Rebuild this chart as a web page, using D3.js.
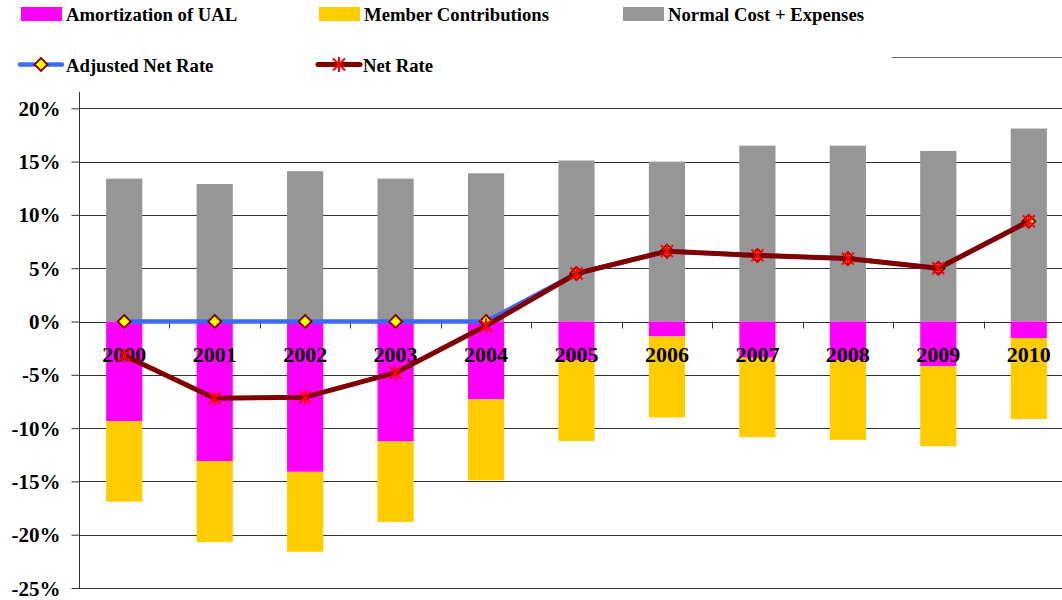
<!DOCTYPE html>
<html>
<head>
<meta charset="utf-8">
<script src="https://cdn.jsdelivr.net/npm/d3@7"></script>
<style>
  html, body { margin: 0; padding: 0; background: #fff; }
  svg { display: block; }
</style>
</head>
<body>
<svg id="chart" width="1062" height="600"></svg>
<script>
// ---- data (percent) ----
const years = ["2000","2001","2002","2003","2004","2005","2006","2007","2008","2009","2010"];
const normalCost = [13.4, 12.9, 14.1, 13.4, 13.9, 15.1, 15.0, 16.5, 16.5, 16.0, 18.1];
const amortizationUAL = [-9.35, -13.1, -14.1, -11.25, -7.3, -3.65, -1.4, -3.4, -3.65, -4.2, -1.55];
const memberContrib = [-7.55, -7.6, -7.5, -7.55, -7.6, -7.55, -7.6, -7.45, -7.45, -7.5, -7.6];
const netRate = [-3.2, -7.2, -7.1, -4.8, -0.4, 4.5, 6.6, 6.2, 5.9, 5.0, 9.4];
const adjustedNetRate = [0, 0, 0, 0, 0, 4.5, 6.6, 6.2, 5.9, 5.0, 9.4];
const yTicks = [20, 15, 10, 5, 0, -5, -10, -15, -20, -25];

const FONT = (size) => `font-family:'Liberation Serif','Times New Roman',serif;font-weight:bold;font-size:${size}px;fill:#000`;

const svg = d3.select("#chart");
const x = d3.scaleBand().domain(years).range([79, 1074]).paddingInner(0.6).paddingOuter(0.3);
const y = d3.scaleLinear().domain([-25, 20]).range([588, 108.3]);

// grid lines
svg.append("g").selectAll("line").data(yTicks).join("line")
  .attr("x1", 79).attr("x2", 1074)
  .attr("y1", d => Math.round(y(d)) + 0.5).attr("y2", d => Math.round(y(d)) + 0.5)
  .attr("stroke", "#333").attr("stroke-width", 1);

// y axis
const yAxis = d3.axisLeft(y).tickValues(yTicks).tickSize(8).tickFormat(d => d + "%");
const gy = svg.append("g").attr("transform", "translate(79.5,0)").call(yAxis);
gy.attr("font-family", null).attr("font-size", null);
gy.select(".domain").attr("d", "M0,92V588").attr("stroke", "#333");
gy.selectAll(".tick line").attr("stroke", "#333");
gy.selectAll(".tick text").attr("x", -19).attr("dy", null).attr("y", 7)
  .attr("fill", "#000").attr("style", FONT(21));

// bars
const barG = svg.append("g");
function bars(vals, base, color) {
  barG.append("g").selectAll("rect").data(years).join("rect")
    .attr("x", d => x(d)).attr("width", x.bandwidth())
    .attr("y", (d, i) => Math.min(y(base[i]), y(base[i] + vals[i])))
    .attr("height", (d, i) => Math.abs(y(base[i] + vals[i]) - y(base[i])))
    .attr("fill", color);
}
const zeros = years.map(() => 0);
bars(normalCost, zeros, "#969696");
bars(amortizationUAL, zeros, "#FF00FF");
bars(memberContrib, amortizationUAL, "#FFCC00");

// x axis at zero line (ticks at band boundaries)
const step = x.step();
const boundaries = years.slice(1).map(d => x(d) - (step - x.bandwidth()) / 2);
svg.append("g").selectAll("line").data(boundaries).join("line")
  .attr("x1", d => Math.round(d) + 0.5).attr("x2", d => Math.round(d) + 0.5)
  .attr("y1", y(0)).attr("y2", y(0) + 7).attr("stroke", "#333");

// x labels
svg.append("g").selectAll("text").data(years).join("text")
  .attr("x", d => x(d) + x.bandwidth() / 2).attr("y", 362)
  .attr("text-anchor", "middle").attr("style", FONT(22)).text(d => d);

// lines
const line = d3.line().x((d, i) => x(years[i]) + x.bandwidth() / 2).y(d => y(d));
svg.append("path").datum(adjustedNetRate).attr("d", line)
  .attr("fill", "none").attr("stroke", "#3A6BF5").attr("stroke-width", 4.5).attr("stroke-linejoin", "round");
const diamond = "M0,-6.5L6.5,0L0,6.5L-6.5,0Z";
svg.append("g").selectAll("path").data(adjustedNetRate).join("path")
  .attr("transform", (d, i) => `translate(${x(years[i]) + x.bandwidth() / 2},${y(d)})`)
  .attr("d", diamond).attr("fill", "#FFFF00").attr("stroke", "#800000").attr("stroke-width", 1.8);
svg.append("path").datum(netRate).attr("d", line)
  .attr("fill", "none").attr("stroke", "#800000").attr("stroke-width", 5).attr("stroke-linejoin", "round");
const star = "M-6,-6L6,6M-6,6L6,-6M0,-7.5L0,7.5";
svg.append("g").selectAll("path").data(netRate).join("path")
  .attr("transform", (d, i) => `translate(${x(years[i]) + x.bandwidth() / 2},${y(d)})`)
  .attr("d", star).attr("fill", "none").attr("stroke", "#FF0000").attr("stroke-width", 2);

// legend
const leg = svg.append("g");
const legBars = [
  {label: "Amortization of UAL", color: "#FF00FF", x: 21},
  {label: "Member Contributions", color: "#FFCC00", x: 319},
  {label: "Normal Cost + Expenses", color: "#969696", x: 623}
];
legBars.forEach(l => {
  leg.append("rect").attr("x", l.x).attr("y", 7).attr("width", 41).attr("height", 14).attr("fill", l.color);
  leg.append("text").attr("x", l.x + 45).attr("y", 21).attr("style", FONT(18.7)).text(l.label);
});
// Adjusted Net Rate
leg.append("line").attr("x1", 20).attr("x2", 62).attr("y1", 64.5).attr("y2", 64.5)
  .attr("stroke", "#3A6BF5").attr("stroke-width", 4.5).attr("stroke-linecap", "round");
leg.append("path").attr("transform", "translate(41,64.5)").attr("d", diamond)
  .attr("fill", "#FFFF00").attr("stroke", "#800000").attr("stroke-width", 1.8);
leg.append("text").attr("x", 66).attr("y", 72).attr("style", FONT(18.7)).text("Adjusted Net Rate");
// Net Rate
leg.append("line").attr("x1", 318).attr("x2", 360).attr("y1", 64.5).attr("y2", 64.5)
  .attr("stroke", "#800000").attr("stroke-width", 5).attr("stroke-linecap", "round");
leg.append("path").attr("transform", "translate(339,64.5)").attr("d", star)
  .attr("fill", "none").attr("stroke", "#FF0000").attr("stroke-width", 2);
leg.append("text").attr("x", 363).attr("y", 72).attr("style", FONT(18.7)).text("Net Rate");
// partial border line top right
leg.append("line").attr("x1", 892).attr("x2", 1062).attr("y1", 57.5).attr("y2", 57.5)
  .attr("stroke", "#666").attr("stroke-width", 1);
</script>
</body>
</html>
